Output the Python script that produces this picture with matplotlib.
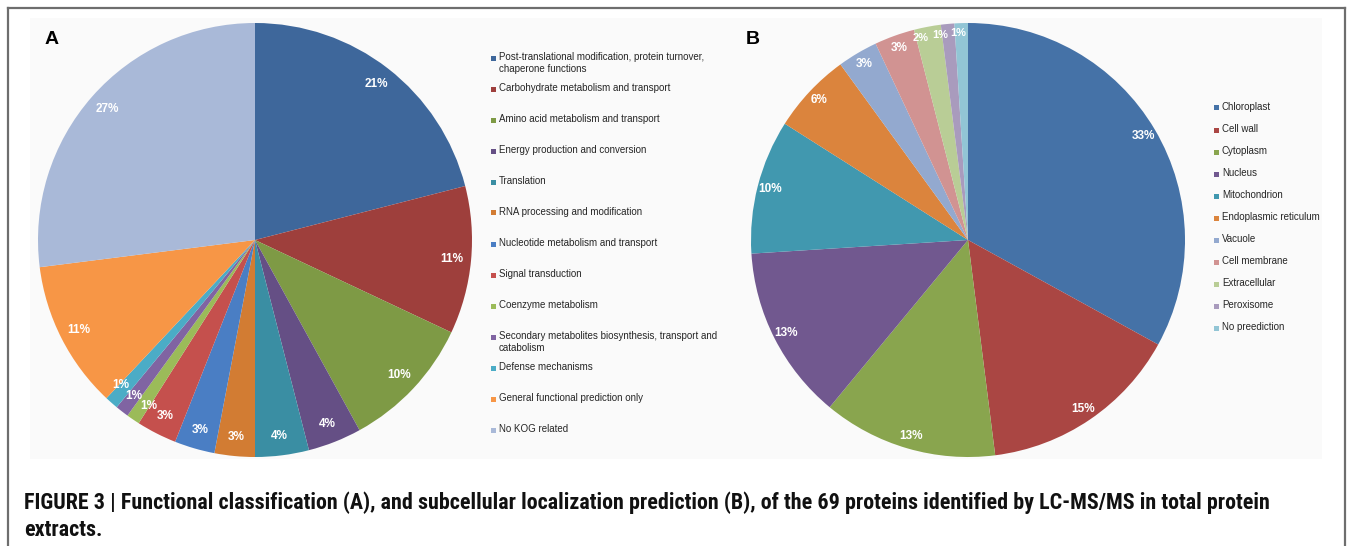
import matplotlib
matplotlib.use("Agg")
import numpy as np
import matplotlib.pyplot as plt
from matplotlib.patches import Rectangle
from matplotlib.lines import Line2D
from matplotlib import font_manager

# ---- data -------------------------------------------------------------
kog_categories = [
    "Post-translational modification, protein turnover,\nchaperone functions",
    "Carbohydrate metabolism and transport",
    "Amino acid metabolism and transport",
    "Energy production and conversion",
    "Translation",
    "RNA processing and modification",
    "Nucleotide metabolism and transport",
    "Signal transduction",
    "Coenzyme metabolism",
    "Secondary metabolites biosynthesis, transport and\ncatabolism",
    "Defense mechanisms",
    "General functional prediction only",
    "No KOG related",
]
kog_percent = [21, 11, 10, 4, 4, 3, 3, 3, 1, 1, 1, 11, 27]
kog_colors = ["#3E679B", "#9E3F3C", "#7E9A45", "#654F85", "#3A8EA3", "#D27C33",
              "#4A7EC4", "#C5504D", "#9BBB59", "#8064A2", "#4BACC6", "#F79646",
              "#A9B9D8"]

loc_categories = ["Chloroplast", "Cell wall", "Cytoplasm", "Nucleus",
                  "Mitochondrion", "Endoplasmic reticulum", "Vacuole",
                  "Cell membrane", "Extracellular", "Peroxisome", "No preediction"]
loc_percent = [33, 15, 13, 13, 10, 6, 3, 3, 2, 1, 1]
loc_colors = ["#4572A7", "#AA4643", "#89A54E", "#71588F", "#4198AF", "#DB843D",
              "#93A9CF", "#D19392", "#B9CD96", "#A99BBD", "#92C5D5"]

caption_lines = [
    "FIGURE 3 | Functional classification (A), and subcellular localization prediction (B), "
    "of the 69 proteins identified by LC-MS/MS in total protein",
    "extracts.",
]

# ---- figure -----------------------------------------------------------
W, H = 1355, 546
fig = plt.figure(figsize=(W / 100, H / 100), dpi=100)
fig.patch.set_facecolor("white")

installed = {f.name for f in font_manager.fontManager.ttflist}
sans = "Liberation Sans" if "Liberation Sans" in installed else "DejaVu Sans"
narrow = sans
for cand in ["Liberation Sans Narrow", "Roboto Condensed", "Open Sans Condensed",
             "DejaVu Sans Condensed"]:
    if cand in installed:
        narrow = cand
        break


def fx(x):
    return x / W


def fy(y):
    return 1 - y / H


# outer frame (open at the bottom)
frame_kw = dict(color="#6E6E6E", lw=1.6, transform=fig.transFigure, zorder=5)
fig.add_artist(Line2D([fx(8), fx(1345)], [fy(8), fy(8)], **frame_kw))
fig.add_artist(Line2D([fx(8), fx(8)], [fy(8), fy(560)], **frame_kw))
fig.add_artist(Line2D([fx(1345), fx(1345)], [fy(8), fy(560)], **frame_kw))

# faint chart area
fig.add_artist(Rectangle((fx(30), fy(459)), fx(1322) - fx(30), fy(18) - fy(459),
                         transform=fig.transFigure, fc="#FAFAFA", ec="none", zorder=0))


def draw_pie(cx, cy, r, values, colors, labeldist, nudges):
    ax = fig.add_axes([fx(cx - r), fy(cy + r), fx(2 * r), (2 * r) / H])
    wedges, texts = ax.pie(values, colors=colors, startangle=90, counterclock=False,
                           labels=[f"{v}%" for v in values], labeldistance=labeldist,
                           wedgeprops=dict(linewidth=0),
                           textprops=dict(color="white", fontweight="bold",
                                          fontsize=8.5, family=sans))
    for i, (w, t) in enumerate(zip(wedges, texts)):
        # place each label on its wedge bisector, with small angular
        # offsets (degrees), radius and size for the crowded thin slices
        dang, dist, fs = nudges.get(i, (0.0, labeldist, 8.5))
        ang = np.deg2rad((w.theta1 + w.theta2) / 2 + dang)
        t.set_position((dist * np.cos(ang), dist * np.sin(ang)))
        t.set_horizontalalignment("center")
        t.set_verticalalignment("center")
        t.set_fontsize(fs)
    ax.set_xlim(-1, 1)
    ax.set_ylim(-1, 1)
    ax.set_aspect("equal")
    ax.axis("off")
    return ax


draw_pie(255, 240, 217, kog_percent, kog_colors, 0.91,
         {8: (1.6, 0.91, 8.5), 10: (-1.4, 0.91, 8.5)})
draw_pie(968, 240, 217, loc_percent, loc_colors, 0.94,
         {8: (2.4, 0.955, 8.0), 9: (2.4, 0.955, 8.0), 10: (0.9, 0.955, 8.0)})

# panel letters
fig.text(fx(45), fy(39), "A", fontsize=14, fontweight="bold", family=sans,
         va="center", ha="left")
fig.text(fx(746), fy(39), "B", fontsize=14, fontweight="bold", family=sans,
         va="center", ha="left")


def draw_legend(x_box, y_top, step, labels, colors):
    for i, (lab, col) in enumerate(zip(labels, colors)):
        y = y_top + i * step
        fig.add_artist(Rectangle((fx(x_box), fy(y + 2.5)), fx(5), 5 / H,
                                 transform=fig.transFigure, fc=col, ec="none"))
        fig.text(fx(x_box + 8), fy(y - 6), lab, fontsize=7, family=sans,
                 color="#262626", va="top", ha="left", linespacing=1.2)


draw_legend(491, 58, 31, kog_categories, kog_colors)
draw_legend(1214, 108, 22, loc_categories, loc_colors)

# caption, sized so the first line spans the text block width
renderer = fig.canvas.get_renderer()
cap_texts = []
for i, line in enumerate(caption_lines):
    cap_texts.append(fig.text(fx(24), fy(503 + i * 27), line, fontsize=14,
                              fontweight="bold", family=narrow, va="center",
                              ha="left", color="#111111"))
target_width = 1244.0
width = cap_texts[0].get_window_extent(renderer).width
size = min(16.5, 14 * target_width / width)
for t in cap_texts:
    t.set_fontsize(size)

fig.savefig("out.png", dpi=100, facecolor="white")
